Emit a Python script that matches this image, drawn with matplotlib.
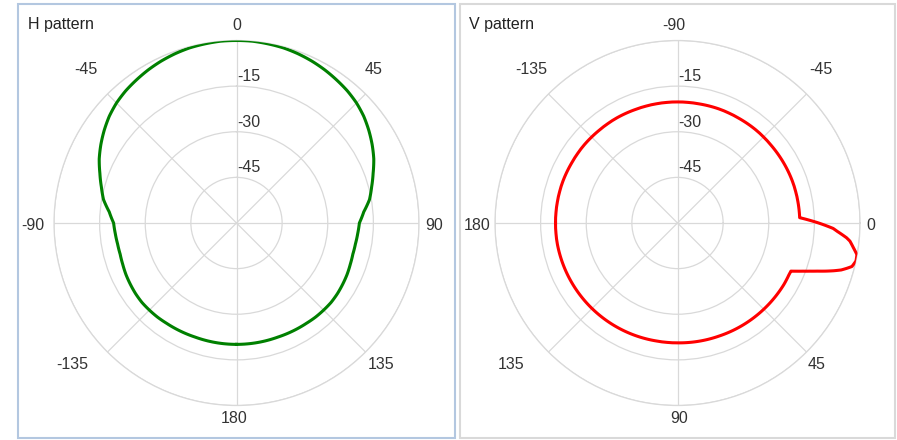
import numpy as np
import matplotlib.pyplot as plt
from matplotlib.patches import Rectangle

plt.rcParams['font.family'] = ['Liberation Sans', 'DejaVu Sans']

# ---- data: gain in dB versus azimuth / elevation (degrees) ----
h_angles = [-180, -175, -170, -165, -160, -155, -150, -145, -140, -135, -130, -125,
            -120, -115, -110, -105, -100, -95, -90, -85, -80, -75, -70, -65,
            -60, -55, -50, -45, -40, -35, -30, -25, -20, -15, -10, -5,
            0, 5, 10, 15, 20, 25, 30, 35, 40, 45, 50, 55,
            60, 65, 70, 75, 80, 85, 90, 95, 100, 105, 110, 115,
            120, 125, 130, 135, 140, 145, 150, 155, 160, 165, 170, 175, 180]
h_gain = [-20.1, -20.1, -20.1, -20.1, -20.1, -20.0, -19.9, -19.8, -19.6, -19.5, -19.4, -19.5,
          -19.7, -19.9, -20.2, -20.4, -20.3, -20.0, -19.6, -18.0, -15.6, -14.0, -12.2, -10.2,
          -8.5, -6.9, -5.4, -4.2, -3.3, -2.6, -1.9, -1.3, -0.8, -0.4, -0.2, 0.0,
          0.0, 0.0, -0.2, -0.4, -0.8, -1.3, -1.9, -2.6, -3.3, -4.2, -5.4, -6.9,
          -8.5, -10.2, -12.2, -14.0, -15.6, -18.0, -19.6, -20.0, -20.3, -20.4, -20.2, -19.9,
          -19.7, -19.5, -19.4, -19.5, -19.6, -19.8, -19.9, -20.0, -20.1, -20.1, -20.1, -20.1, -20.1]

v_angles = [-180, -170, -160, -150, -140, -130, -120, -110, -100, -90, -80, -70,
            -60, -50, -40, -30, -20, -10, -5, -2.5, -1, 0, 1, 2,
            3, 4, 5, 6, 8, 10, 12, 14, 15, 16, 17, 18,
            19, 20, 21, 22, 23, 25, 30, 40, 50, 60, 70, 80,
            90, 100, 110, 120, 130, 140, 150, 160, 170, 180]
v_gain = [-19.9, -19.9, -19.9, -20.0, -20.0, -20.1, -20.1, -20.2, -20.2, -20.2, -20.2, -20.1,
          -20.1, -20.0, -20.0, -19.9, -19.8, -19.8, -19.8, -19.8, -16.1, -13.6, -11.2, -8.8,
          -7.4, -5.8, -4.2, -3.0, -1.6, -0.1, 0.0, -0.9, -2.4, -4.0, -6.3, -8.8,
          -11.4, -13.7, -15.8, -17.7, -19.5, -19.6, -19.6, -19.8, -20.0, -20.2, -20.4, -20.5,
          -20.6, -20.6, -20.5, -20.4, -20.3, -20.2, -20.1, -20.0, -19.9, -19.9]

ring_levels = [-45, -30, -15]
ring_labels = ['-45', '-30', '-15']
spoke_angles = [0, 45, 90, 135, 180, 225, 270, 315]
h_tick_labels = ['0', '45', '90', '135', '180', '-135', '-90', '-45']
v_tick_labels = ['-90', '-45', '0', '45', '90', '135', '180', '-135']

# ---- layout (pixels) ----
W, H = 897, 440
R = 182.5
R_MIN, R_MAX = -60, 0
GRID = '#d9d9d9'
TXT = '#333333'
FS = 11.5

fig = plt.figure(figsize=(W / 100, H / 100), dpi=100)


def fx(px):
    return px / W


def fy(py):
    return 1 - py / H


# label centres (dx) and baselines (y) around each dial
label_dx = {
    'H': [0.5, 137.5, 197.5, 144.5, -2.5, -164, -204, -151],
    'V': [-3.5, 143, 193.5, 139.5, 1.5, -166.5, -200.8, -146.5],
}
label_base = [30, 74, 230, 369, 423, 369, 230, 74]


def dial(cx, cy, key, zero_loc, angles, gain, color, labels, title, title_x,
         frame_box, frame_color):
    fig.patches.append(Rectangle((fx(frame_box[0]), fy(frame_box[3])),
                                 fx(frame_box[2] - frame_box[0]),
                                 (frame_box[3] - frame_box[1]) / H,
                                 transform=fig.transFigure, fill=False,
                                 edgecolor=frame_color, linewidth=1.5))
    ax = fig.add_axes([fx(cx - R), fy(cy + R), 2 * R / W, 2 * R / H],
                      projection='polar')
    ax.set_theta_zero_location(zero_loc)
    ax.set_theta_direction(-1)
    ax.set_ylim(R_MIN, R_MAX)
    ax.set_yticks(ring_levels + [R_MAX])
    ax.set_yticklabels([])
    ax.set_xticks(np.deg2rad(spoke_angles))
    ax.set_xticklabels([])
    ax.tick_params(length=0)
    ax.grid(True, color=GRID, linewidth=0.9)
    ax.spines['polar'].set_color(GRID)
    ax.spines['polar'].set_linewidth(0.9)
    ax.set_facecolor('none')

    line, = ax.plot(np.deg2rad(angles), gain, color=color, linewidth=2.2,
                    solid_joinstyle='round', zorder=3)
    # draw segments as arcs in polar space rather than straight chords
    line.get_path()._interpolation_steps = 12

    for lab, dx, base in zip(labels, label_dx[key], label_base):
        fig.text(fx(cx + dx), fy(base), lab, ha='center', va='baseline',
                 fontsize=FS, color=TXT)
    for lvl, lab in zip(ring_levels, ring_labels):
        rpx = (lvl - R_MIN) / (R_MAX - R_MIN) * R
        fig.text(fx(cx + 1), fy(cy - rpx - 5), lab, ha='left', va='baseline',
                 fontsize=FS, color=TXT)
    fig.text(fx(title_x), fy(29.5), title, ha='left', va='baseline',
             fontsize=FS, color='#222222')
    return ax


dial(236.5, 223, 'H', 'N', h_angles, h_gain, '#008000', h_tick_labels,
     'H pattern', 28.3, (17.5, 4.5, 454.5, 437.5), '#b3c7e0')
dial(677.5, 223, 'V', 'E', v_angles, v_gain, '#ff0000', v_tick_labels,
     'V pattern', 469.3, (459.5, 4.5, 894.5, 437.5), '#d9d9d9')

fig.savefig('out.png', dpi=100)
